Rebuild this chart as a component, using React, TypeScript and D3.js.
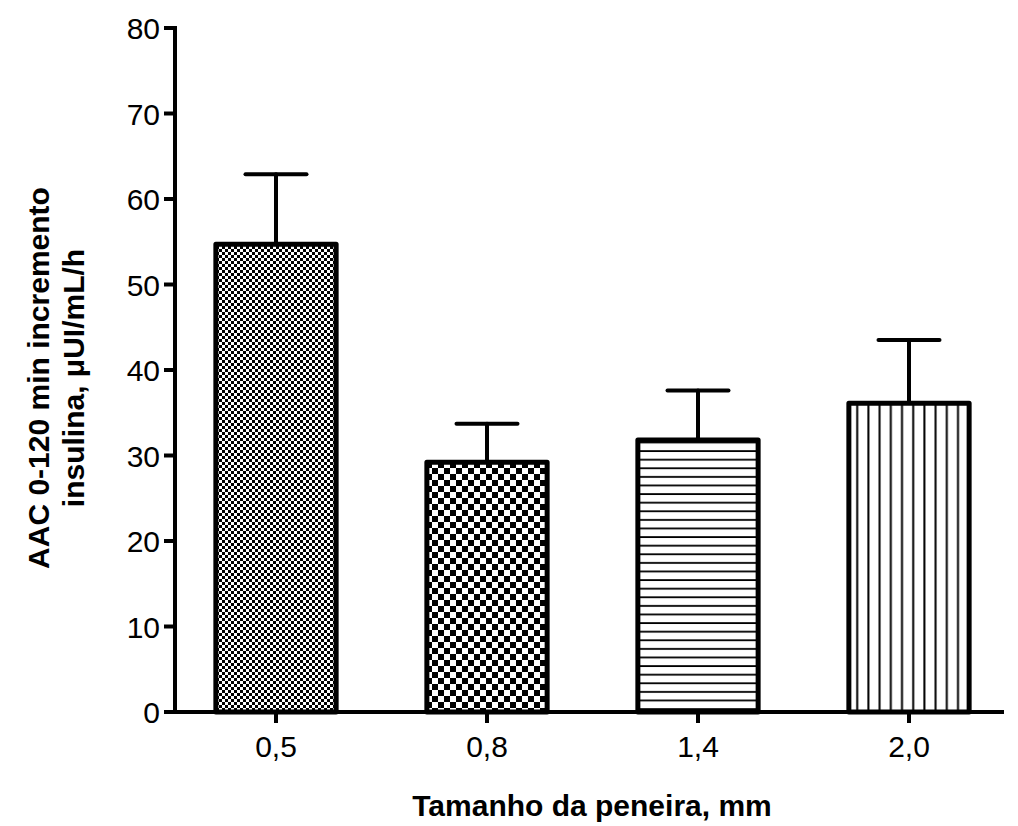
import React from "react";
import * as d3 from "d3";

const categories = ["0,5", "0,8", "1,4", "2,0"];
const means = [54.7, 29.2, 31.8, 36.1];
const errors = [8.2, 4.5, 5.8, 7.4];
const patterns = ["fineChecker", "coarseChecker", "hLines", "vLines"];
const yTicks = [0, 10, 20, 30, 40, 50, 60, 70, 80];

const W = 1018;
const H = 826;
const FONT = "Arial, 'Liberation Sans', Helvetica, sans-serif";

export default function App() {
  const y = d3.scaleLinear().domain([0, 80]).range([712, 28]);
  const x = d3
    .scaleBand<string>()
    .domain(categories)
    .range([170.5, 1014.5])
    .paddingInner(0.43)
    .paddingOuter(0.215);
  const axisX = 175;
  const axisY = y(0);
  const bw = x.bandwidth();
  const capW = 61;

  return (
    <svg width={W} height={H} style={{ position: "absolute", left: 0, top: 0, background: "#fff" }}>
      <defs>
        <pattern id="fineChecker" width={6} height={6} patternUnits="userSpaceOnUse">
          <rect width={6} height={6} fill="#fff" />
          <rect width={3} height={3} fill="#000" />
          <rect x={3} y={3} width={3} height={3} fill="#000" />
        </pattern>
        <pattern id="coarseChecker" width={12} height={12} patternUnits="userSpaceOnUse">
          <rect width={12} height={12} fill="#fff" />
          <rect width={6} height={6} fill="#000" />
          <rect x={6} y={6} width={6} height={6} fill="#000" />
        </pattern>
        <pattern id="hLines" width={10} height={8.6} patternUnits="userSpaceOnUse">
          <rect width={10} height={8.6} fill="#fff" />
          <rect y={3} width={10} height={1.8} fill="#000" />
        </pattern>
        <pattern id="vLines" width={11.2} height={10} patternUnits="userSpaceOnUse">
          <rect width={11.2} height={10} fill="#fff" />
          <rect x={5} width={2} height={10} fill="#000" />
        </pattern>
      </defs>

      {/* error bars */}
      {categories.map((c, i) => {
        const cx = (x(c) as number) + bw / 2;
        return (
          <g key={"e" + c} stroke="#000" strokeWidth={4} strokeLinecap="round">
            <line x1={cx} x2={cx} y1={y(means[i])} y2={y(means[i] + errors[i])} />
            <line x1={cx - capW / 2} x2={cx + capW / 2} y1={y(means[i] + errors[i])} y2={y(means[i] + errors[i])} />
          </g>
        );
      })}

      {/* bars */}
      {categories.map((c, i) => (
        <rect
          key={"b" + c}
          x={x(c) as number}
          y={y(means[i])}
          width={bw}
          height={axisY - y(means[i])}
          fill={`url(#${patterns[i]})`}
          stroke="#000"
          strokeWidth={5}
          strokeLinejoin="round"
        />
      ))}

      {/* y axis */}
      <line x1={axisX} x2={axisX} y1={y(80) - 2} y2={axisY + 2} stroke="#000" strokeWidth={4} />
      {yTicks.map((t) => (
        <g key={"yt" + t}>
          <line x1={axisX - 11} x2={axisX} y1={y(t)} y2={y(t)} stroke="#000" strokeWidth={4} />
          <text
            x={axisX - 15}
            y={y(t) + 11}
            textAnchor="end"
            fontFamily={FONT}
            fontSize={30}
            fill="#000"
          >
            {t}
          </text>
        </g>
      ))}

      {/* x axis */}
      <line x1={axisX - 2} x2={1004} y1={axisY} y2={axisY} stroke="#000" strokeWidth={4} />
      {categories.map((c) => {
        const cx = (x(c) as number) + bw / 2;
        return (
          <g key={"xt" + c}>
            <line x1={cx} x2={cx} y1={axisY} y2={axisY + 11} stroke="#000" strokeWidth={4} />
            <text x={cx} y={axisY + 45} textAnchor="middle" fontFamily={FONT} fontSize={30} fill="#000">
              {c}
            </text>
          </g>
        );
      })}

      {/* axis titles */}
      <text x={592} y={816} textAnchor="middle" fontFamily={FONT} fontSize={30} fontWeight="bold" fill="#000">
        Tamanho da peneira, mm
      </text>
      <text
        transform={`translate(49, 378) rotate(-90)`}
        textAnchor="middle"
        fontFamily={FONT}
        fontSize={30}
        fontWeight="bold"
        fill="#000"
      >
        AAC 0-120 min incremento
      </text>
      <text
        transform={`translate(84, 378) rotate(-90)`}
        textAnchor="middle"
        fontFamily={FONT}
        fontSize={30}
        fontWeight="bold"
        fill="#000"
      >
        insulina, μUI/mL/h
      </text>
    </svg>
  );
}
